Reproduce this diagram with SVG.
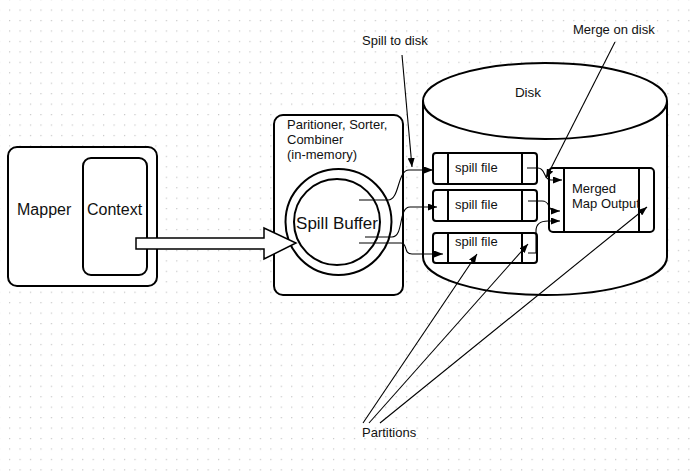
<svg xmlns="http://www.w3.org/2000/svg" width="690" height="471" viewBox="0 0 690 471">
<defs>
<pattern id="grid" x="9" y="9.5" width="10.45" height="10.45" patternUnits="userSpaceOnUse">
<rect x="0" y="0" width="1.2" height="1.2" fill="#c6c6c6"/>
</pattern>
<marker id="ah" viewBox="0 0 9 7" refX="9" refY="3.5" markerWidth="9" markerHeight="7" markerUnits="userSpaceOnUse" orient="auto">
<path d="M0,0 L9,3.5 L0,7 z" fill="#000"/>
</marker>
</defs>
<style>
.box{fill:#fff;stroke:#000;stroke-width:2}
.thin{fill:none;stroke:#000;stroke-width:2}
.con{fill:none;stroke:#000;stroke-width:1.1;marker-end:url(#ah)}
text{font-family:"Liberation Sans",Arial,sans-serif;fill:#111}
.big{font-size:16px}
.sm{font-size:13px}
</style>
<rect width="690" height="471" fill="#fff"/>
<rect width="690" height="471" fill="url(#grid)"/>

<g id="mapper">
<rect class="box" x="8" y="147" width="149" height="139" rx="9"/>
<text class="big" x="17" y="215">Mapper</text>
</g>
<g id="context">
<rect class="box" x="83" y="158" width="64" height="117" rx="8"/>
<text class="big" x="87" y="215">Context</text>
</g>

<g id="buffer-box">
<rect class="box" x="274" y="115" width="129" height="180" rx="9"/>
<text class="sm" x="287" y="129">Paritioner, Sorter,</text>
<text class="sm" x="287" y="144">Combiner</text>
<text class="sm" x="287" y="159">(in-memory)</text>
</g>
<g id="spill-buffer">
<circle cx="338.5" cy="222" r="53" fill="#fff" stroke="#000" stroke-width="2"/>
<circle cx="337" cy="222" r="43" fill="#fff" stroke="#000" stroke-width="2"/>
<text x="337" y="229" font-size="17" text-anchor="middle">Spill Buffer</text>
</g>

<g id="block-arrow">
<polygon points="136,238 264,238 264,228 296,243 264,259 264,249 136,249" fill="#fff" stroke="#000" stroke-width="1.5"/>
</g>

<g id="disk">
<path class="box" d="M423,101 L423,257 A122,38 0 0 0 667,257 L667,101"/>
<ellipse class="box" cx="545" cy="101" rx="122" ry="38"/>
<text x="528" y="97" font-size="13.5" text-anchor="middle">Disk</text>
</g>

<g id="spill-file-1">
<rect class="box" x="433" y="153" width="104" height="31" rx="3"/>
<line class="thin" x1="448" y1="153" x2="448" y2="184"/>
<line class="thin" x1="522" y1="153" x2="522" y2="184"/>
<text class="sm" x="455" y="172">spill file</text>
</g>
<g id="spill-file-2">
<rect class="box" x="433" y="190" width="104" height="31" rx="3"/>
<line class="thin" x1="448" y1="190" x2="448" y2="221"/>
<line class="thin" x1="522" y1="190" x2="522" y2="221"/>
<text class="sm" x="455" y="209">spill file</text>
</g>
<g id="spill-file-3">
<rect class="box" x="433" y="233" width="104" height="30" rx="3"/>
<line class="thin" x1="448" y1="233" x2="448" y2="263"/>
<line class="thin" x1="522" y1="233" x2="522" y2="263"/>
<text class="sm" x="455" y="246">spill file</text>
</g>

<g id="merged">
<rect class="box" x="549" y="168" width="105" height="64" rx="4"/>
<line class="thin" x1="564" y1="168" x2="564" y2="232"/>
<line class="thin" x1="639" y1="168" x2="639" y2="232"/>
<text class="sm" x="572" y="193">Merged</text>
<text class="sm" x="572" y="208">Map Output</text>
</g>

<g id="labels">
<text class="sm" x="362" y="45">Spill to disk</text>
<text class="sm" x="573" y="34">Merge on disk</text>
<text class="sm" x="362" y="437">Partitions</text>
</g>

<g id="connectors">
<path class="con" d="M359,200 H388 C400,200 397,170 409,170 H433"/>
<path class="con" d="M365,237 H392 C404,237 398,207 410,207 H437"/>
<path class="con" d="M359,243 H401 C408,243 403,254 412,254 H443"/>
<path class="con" d="M527,168 H538 C546,168 543,180 551,180 H562"/>
<path class="con" d="M528,201 H542 C551,201 547,211 555,211 H560"/>
<path class="con" d="M528,253 H536 V231 C536,224 540,221 548,221 H560"/>
<path class="con" d="M402,55 L412,167"/>
<path class="con" d="M615,42 L546,178"/>
<path class="con" d="M363,423 L477,254"/>
<path class="con" d="M369,423 L528,244"/>
<path class="con" d="M380,423 L647,207"/>
</g>
</svg>
